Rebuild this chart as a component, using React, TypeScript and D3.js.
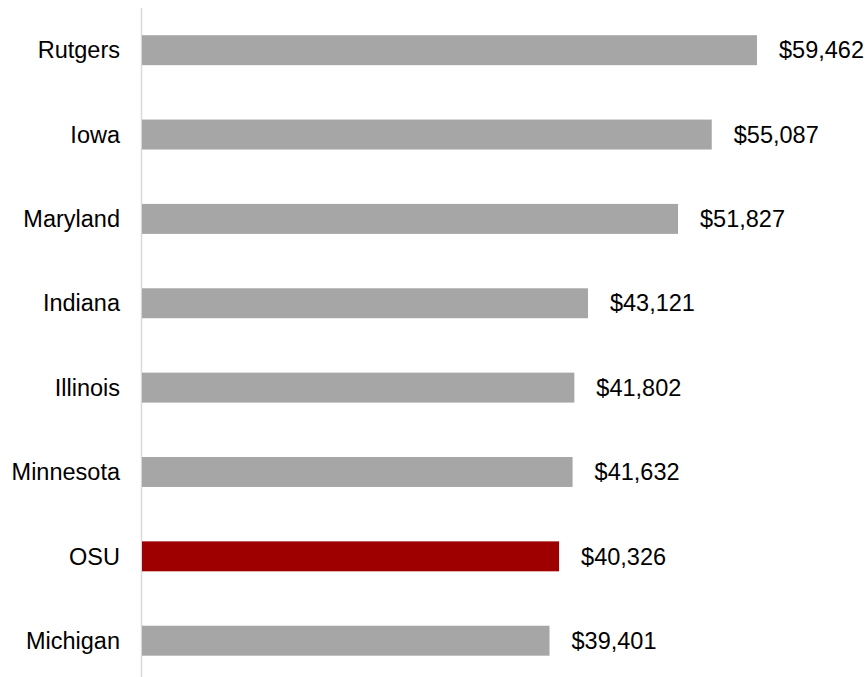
import { useEffect, useRef } from "react";
import * as d3 from "d3";

const schools = ["Rutgers", "Iowa", "Maryland", "Indiana", "Illinois", "Minnesota", "OSU", "Michigan"];
const salaries = [59462, 55087, 51827, 43121, 41802, 41632, 40326, 39401];
const highlight = "OSU";

export default function App() {
    const svgRef = useRef<SVGSVGElement>(null);

    useEffect(() => {
        if (!svgRef.current) return;
        const svg = d3.select(svgRef.current);
        svg.selectAll("*").remove();

        const width = 868;
        const height = 677;

        const x = d3.scaleLinear()
            .domain([0, 59462])
            .range([142, 757]);

        const y = d3.scaleBand<string>()
            .domain(schools)
            .range([8, 8 + 84.36 * schools.length])
            .paddingInner(0.645)
            .paddingOuter(0.3225);

        // axis line
        svg.append("line")
            .attr("x1", 141.5)
            .attr("x2", 141.5)
            .attr("y1", 8)
            .attr("y2", height)
            .style("stroke", "#d9d9d9")
            .style("stroke-width", 1.5);

        const rows = svg.selectAll(".row")
            .data(schools)
            .enter()
            .append("g")
            .attr("class", "row");

        rows.append("rect")
            .attr("x", x(0))
            .attr("y", d => y(d)!)
            .attr("width", (_, i) => x(salaries[i]) - x(0))
            .attr("height", y.bandwidth())
            .style("fill", d => d === highlight ? "#9e0000" : "#a6a6a6");

        // category labels
        rows.append("text")
            .attr("x", 120)
            .attr("y", d => y(d)! + y.bandwidth() / 2)
            .attr("dy", "0.35em")
            .attr("text-anchor", "end")
            .style("font-family", "Arial, 'Liberation Sans', sans-serif")
            .style("font-size", "23.5px")
            .style("fill", "#000")
            .text(d => d);

        // value labels
        rows.append("text")
            .attr("x", (_, i) => x(salaries[i]) + 22)
            .attr("y", d => y(d)! + y.bandwidth() / 2)
            .attr("dy", "0.35em")
            .style("font-family", "Arial, 'Liberation Sans', sans-serif")
            .style("font-size", "23.5px")
            .style("fill", "#000")
            .text((_, i) => "$" + d3.format(",")(salaries[i]));

        svg.attr("width", width).attr("height", height);
    }, []);

    return (
        <svg
            ref={svgRef}
            width={868}
            height={677}
            style={{ position: "absolute", left: 0, top: 0, background: "#fff" }}
        />
    );
}
